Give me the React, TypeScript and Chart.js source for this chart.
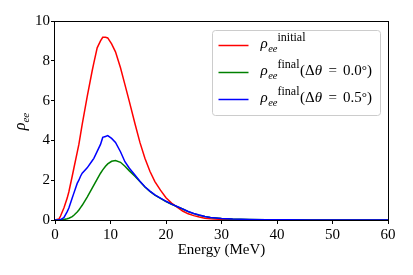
import { useEffect, useRef } from 'react';
import { Chart, registerables } from 'chart.js';

Chart.register(...registerables);

// ---- data ----
const energy = [0, 0.7, 1, 1.6, 2.2, 2.5, 3.1, 3.4, 4.0, 4.3, 4.6, 4.9, 5.8, 6.7, 7.0, 7.6, 8.2, 8.6, 9.1, 9.5, 10.2, 10.9, 11.8, 12.6, 13.4, 14.4, 15.3, 16.2, 17.1, 18, 19, 20, 21, 22, 23, 24, 25, 26, 27, 28, 30, 32, 35, 38, 42, 46, 50, 55, 60];
const rhoInitial = [0, 0.05, 0.2, 0.6, 1.1, 1.42, 2.2, 2.6, 3.4, 3.8, 4.3, 4.8, 6.2, 7.5, 7.9, 8.65, 9.0, 9.18, 9.18, 9.15, 8.85, 8.45, 7.65, 6.8, 5.95, 4.85, 3.9, 3.1, 2.45, 1.93, 1.5, 1.12, 0.85, 0.65, 0.45, 0.31, 0.22, 0.15, 0.09, 0.06, 0.03, 0.015, 0.005, 0.002, 0, 0, 0, 0, 0];
const rhoFinal00 = [0, 0, 0, 0.02, 0.06, 0.09, 0.17, 0.24, 0.4, 0.5, 0.62, 0.74, 1.15, 1.6, 1.75, 2.05, 2.35, 2.52, 2.7, 2.82, 2.95, 2.99, 2.9, 2.7, 2.47, 2.2, 1.93, 1.66, 1.44, 1.25, 1.09, 0.93, 0.79, 0.67, 0.55, 0.42, 0.32, 0.24, 0.18, 0.13, 0.08, 0.05, 0.03, 0.015, 0.008, 0.004, 0.002, 0.001, 0];
const rhoFinal05 = [0, 0, 0.02, 0.12, 0.42, 0.6, 1.1, 1.35, 1.84, 2.0, 2.2, 2.35, 2.62, 2.98, 3.1, 3.45, 3.8, 4.15, 4.2, 4.24, 4.1, 3.9, 3.43, 2.93, 2.6, 2.26, 1.95, 1.67, 1.45, 1.26, 1.1, 0.94, 0.8, 0.68, 0.56, 0.43, 0.33, 0.25, 0.18, 0.13, 0.08, 0.05, 0.03, 0.015, 0.008, 0.004, 0.002, 0.001, 0];

const xTicks = [0, 10, 20, 30, 40, 50, 60];
const yTicks = [0, 2, 4, 6, 8, 10];
const xTitle = 'Energy (MeV)';
const yTitleMain = 'ρ';
const yTitleSub = 'ee';
const legendSup = ['initial', 'final', 'final'];
const legendTail = ['', '(Δθ = 0.0°)', '(Δθ = 0.5°)'];
const seriesColors = ['#ff0000', '#008000', '#0000ff'];

const FONT = '"Liberation Serif", "Times New Roman", serif';

function run(ctx: CanvasRenderingContext2D, x: number, y: number, text: string, size: number, italic: boolean) {
  ctx.font = `${italic ? 'italic ' : ''}${size}px ${FONT}`;
  ctx.fillText(text, x, y);
  return x + ctx.measureText(text).width;
}

const decorPlugin = {
  id: 'decor',
  afterDatasetsDraw(chart: any) {
    const ctx: CanvasRenderingContext2D = chart.ctx;
    const { left, right, top, bottom } = chart.chartArea;
    ctx.save();
    // frame
    ctx.strokeStyle = '#000';
    ctx.lineWidth = 1;
    ctx.strokeRect(Math.round(left) - 0.5, Math.round(top) + 0.5, Math.round(right - left) + 1, Math.round(bottom - top));

    // y title
    ctx.save();
    ctx.fillStyle = '#000';
    ctx.textBaseline = 'alphabetic';
    ctx.translate(left - 30, (top + bottom) / 2 + 1);
    ctx.rotate(-Math.PI / 2);
    ctx.font = `italic 16px ${FONT}`;
    const w1 = ctx.measureText(yTitleMain).width;
    ctx.font = `italic 11px ${FONT}`;
    const w2 = ctx.measureText(yTitleSub).width;
    let tx = -(w1 + w2) / 2;
    tx = run(ctx, tx, 0, yTitleMain, 16, true);
    run(ctx, tx, 4, yTitleSub, 11, true);
    ctx.restore();

    // legend
    const bx = right - 175.5;
    const by = top + 9.5;
    const bw = 168;
    const bh = 85;
    ctx.beginPath();
    (ctx as any).roundRect(bx, by, bw, bh, 3);
    ctx.fillStyle = 'rgba(255,255,255,0.8)';
    ctx.fill();
    ctx.strokeStyle = '#cccccc';
    ctx.lineWidth = 1;
    ctx.stroke();

    ctx.textBaseline = 'alphabetic';
    for (let i = 0; i < legendSup.length; i++) {
      const L = by + 15 + i * 27;
      ctx.strokeStyle = seriesColors[i];
      ctx.lineWidth = 1.5;
      ctx.beginPath();
      ctx.moveTo(bx + 6, L);
      ctx.lineTo(bx + 36, L);
      ctx.stroke();
      ctx.fillStyle = '#000';
      let x = bx + 48;
      x = run(ctx, x, L + 2, 'ρ', 15, true);
      const subEnd = run(ctx, x + 0.5, L + 6, 'ee', 10.5, true);
      x = run(ctx, subEnd, L - 5, legendSup[i], 12, false);
      x += 0.5;
      for (const ch of legendTail[i]) {
        if (ch === ' ') x += 6;
        else if (ch === 'θ') x = run(ctx, x, L + 2, ch, 15, true) + 0.5;
        else if (ch === '°') x = run(ctx, x, L + 1, ch, 13, false);
        else x = run(ctx, x, L + 2, ch, 15, false);
      }
    }
    ctx.restore();
  },
};

export default function App() {
  const ref = useRef<HTMLCanvasElement | null>(null);
  useEffect(() => {
    if (!ref.current) return;
    const labels = ['initial', 'final Δθ=0.0°', 'final Δθ=0.5°'];
    const series = [rhoInitial, rhoFinal00, rhoFinal05];
    const chart = new Chart(ref.current, {
      type: 'line',
      data: {
        datasets: series.map((s, i) => ({
          label: labels[i],
          data: energy.map((e, j) => ({ x: e, y: s[j] })),
          borderColor: seriesColors[i],
          backgroundColor: seriesColors[i],
          borderWidth: 1.5,
          pointRadius: 0,
          tension: 0,
          fill: false,
          order: 3 - i,
        })),
      },
      options: {
        animation: false,
        responsive: true,
        maintainAspectRatio: false,
        layout: { padding: { top: 21, right: 25, left: 0, bottom: 0 } },
        plugins: { legend: { display: false }, tooltip: { enabled: false } },
        scales: {
          x: {
            type: 'linear',
            min: xTicks[0],
            max: xTicks[xTicks.length - 1],
            afterFit: (s: any) => { s.height = 55; },
            afterBuildTicks: (s: any) => { s.ticks = xTicks.map((v) => ({ value: v })); },
            ticks: { color: '#000', font: { family: FONT, size: 15 }, padding: 2, maxRotation: 0 },
            grid: { drawOnChartArea: false, drawTicks: true, tickLength: 4, color: '#000' },
            border: { display: false },
            title: { display: true, text: xTitle, color: '#000', font: { family: FONT, size: 15 }, padding: { top: 0, bottom: 16 } },
          },
          y: {
            type: 'linear',
            min: yTicks[0],
            max: yTicks[yTicks.length - 1],
            afterFit: (s: any) => { s.width = 55; },
            afterBuildTicks: (s: any) => { s.ticks = yTicks.map((v) => ({ value: v })); },
            ticks: { color: '#000', font: { family: FONT, size: 15 }, padding: 1 },
            grid: { drawOnChartArea: false, drawTicks: true, tickLength: 4, color: '#000' },
            border: { display: false },
          },
        },
      },
      plugins: [decorPlugin],
    });
    return () => chart.destroy();
  }, []);
  return (
    <div style={{ position: 'absolute', left: 0, top: 0, width: 413, height: 275, background: '#fff' }}>
      <canvas ref={ref} />
    </div>
  );
}
